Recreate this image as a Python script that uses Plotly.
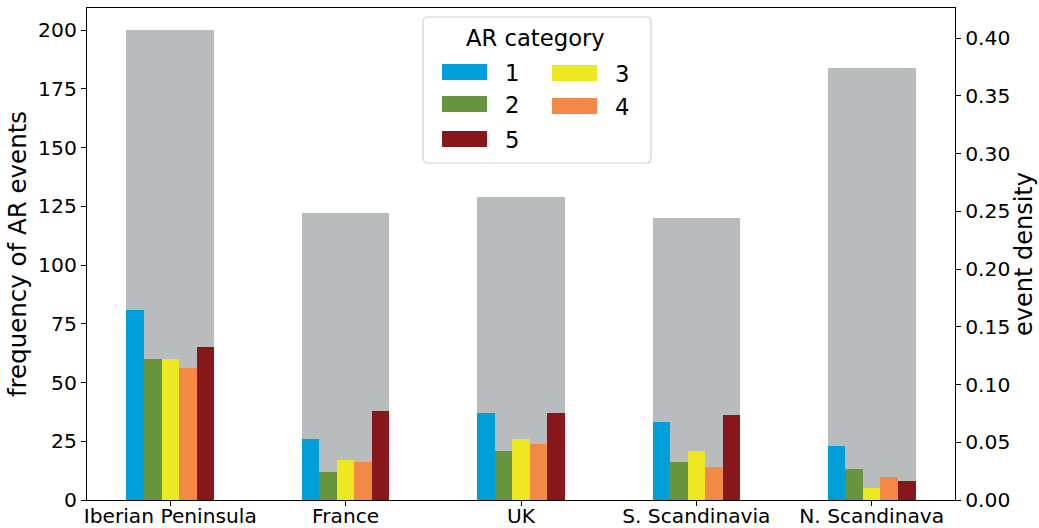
import plotly.graph_objects as go

# Regions and AR-event statistics
regions = ["Iberian Peninsula", "France", "UK", "S. Scandinavia", "N. Scandinava"]
event_density = [0.407, 0.2485, 0.262, 0.244, 0.374]

categories = ["1", "2", "3", "4", "5"]
cat1 = [81, 26, 37, 33, 23]
cat2 = [60, 12, 21, 16, 13]
cat3 = [60, 17, 26, 21, 5]
cat4 = [56, 16, 24, 14, 10]
cat5 = [65, 38, 37, 36, 8]
cat_values = [cat1, cat2, cat3, cat4, cat5]

cat_colors = ["#009fda", "#68933f", "#eee822", "#f48846", "#87171a"]
grey = "#b9bcbd"
FONT = "DejaVu Sans"

W, H = 1039, 528
ML, MR, MT, MB = 87, 84, 8, 28
PW, PH = W - ML - MR, H - MT - MB

x = list(range(len(regions)))

fig = go.Figure()

# Event density (background bars, right axis)
fig.add_trace(go.Bar(
    x=x, y=event_density, width=0.5, offset=-0.25,
    marker=dict(color=grey, line=dict(width=0)),
    yaxis="y", showlegend=False, hoverinfo="y",
))

# Event counts per AR category (left axis, drawn on top)
for k, (name, vals) in enumerate(zip(categories, cat_values)):
    fig.add_trace(go.Bar(
        x=x, y=vals, width=0.1, offset=-0.25 + 0.1 * k,
        marker=dict(color=cat_colors[k], line=dict(width=0)),
        yaxis="y2", name=name, showlegend=False,
    ))


def px(xp):
    return (xp - ML) / PW


def py(yp):
    return (H - MB - yp) / PH


shapes = []
annotations = []

# Legend frame with rounded corners
x0, x1, y0, y1, r = 423, 651, 17, 163, 5
path = (
    f"M {px(x0 + r)},{py(y0)} L {px(x1 - r)},{py(y0)} "
    f"Q {px(x1)},{py(y0)} {px(x1)},{py(y0 + r)} "
    f"L {px(x1)},{py(y1 - r)} Q {px(x1)},{py(y1)} {px(x1 - r)},{py(y1)} "
    f"L {px(x0 + r)},{py(y1)} Q {px(x0)},{py(y1)} {px(x0)},{py(y1 - r)} "
    f"L {px(x0)},{py(y0 + r)} Q {px(x0)},{py(y0)} {px(x0 + r)},{py(y0)} Z"
)
shapes.append(dict(type="path", xref="paper", yref="paper", path=path,
                   fillcolor="rgba(255,255,255,0.9)",
                   line=dict(color="#d0d0d0", width=1.2), layer="above"))

annotations.append(dict(text="AR category", x=px(535), y=py(38), xref="paper", yref="paper",
                        showarrow=False, xanchor="center", yanchor="middle",
                        font=dict(family=FONT, size=22.7, color="black")))

# Legend entries: column, row centre (px)
entries = [(0, 0, 72), (1, 0, 104), (2, 1, 73), (3, 1, 106), (4, 0, 139)]
sw_x = [442, 552]
lb_x = [503, 613]
for k, col, yc in entries:
    shapes.append(dict(type="rect", xref="paper", yref="paper",
                       x0=px(sw_x[col]), x1=px(sw_x[col] + 45),
                       y0=py(yc - 8), y1=py(yc + 8),
                       fillcolor=cat_colors[k], line=dict(width=0), layer="above"))
    annotations.append(dict(text=categories[k], x=px(lb_x[col]), y=py(yc + 1),
                            xref="paper", yref="paper", showarrow=False,
                            xanchor="left", yanchor="middle",
                            font=dict(family=FONT, size=22.7, color="black")))

axis_common = dict(showline=True, linecolor="black", linewidth=1.2,
                   ticks="outside", ticklen=5, tickwidth=1.2, tickcolor="black",
                   showgrid=False, zeroline=False, automargin=False)

fig.update_layout(
    width=W, height=H,
    margin=dict(l=ML, r=MR, t=MT, b=MB, pad=0),
    paper_bgcolor="white", plot_bgcolor="white",
    barmode="overlay", bargap=0,
    font=dict(family=FONT, color="black"),
    xaxis=dict(range=[-0.475, 4.475], tickvals=x, ticktext=regions,
               tickfont=dict(size=20.2), mirror=True, ticklabelstandoff=-7,
               **axis_common),
    yaxis=dict(side="right", range=[0, 0.426], tickvals=[0, 0.05, 0.1, 0.15, 0.2, 0.25, 0.3, 0.35, 0.4],
               tickformat=".2f", tickfont=dict(size=20.3),
               title=dict(text="event density", font=dict(size=24), standoff=3),
               **axis_common),
    yaxis2=dict(side="left", overlaying="y", range=[0, 209.4],
                tickvals=[0, 25, 50, 75, 100, 125, 150, 175, 200],
                tickfont=dict(size=20.3),
                title=dict(text="frequency of AR events", font=dict(size=24.5), standoff=4),
                **axis_common),
    shapes=shapes,
    annotations=annotations,
)

fig.write_html("out.html")
